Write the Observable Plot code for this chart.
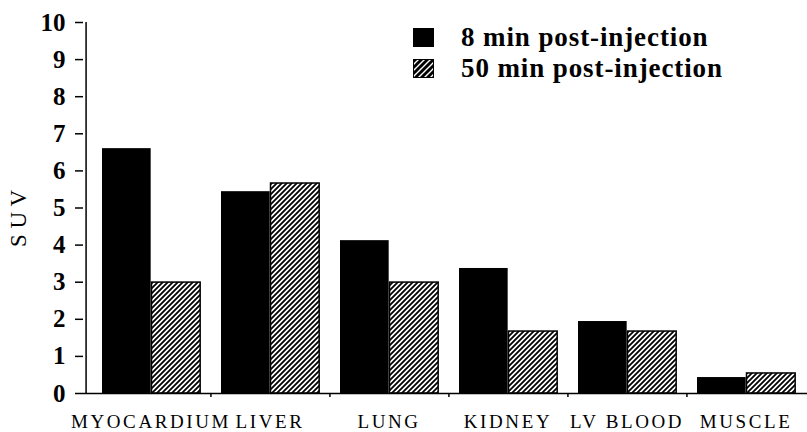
<!DOCTYPE html>
<html><head><meta charset="utf-8">
<script src="https://cdn.jsdelivr.net/npm/d3@7"></script>
<script src="https://cdn.jsdelivr.net/npm/@observablehq/plot@0.6"></script>
<style>
body{margin:0;background:#fff}
#wrap{position:relative;width:807px;height:432px}
#wrap svg text{font-family:"Liberation Serif","Times New Roman","DejaVu Serif",serif}
g[aria-label="x-axis tick label"] text{letter-spacing:2.6px}
.leg{position:absolute;left:413px;display:flex;align-items:center;height:31px;font-family:"Liberation Serif","Times New Roman","DejaVu Serif",serif;font-weight:bold;font-size:27px;letter-spacing:0.9px;white-space:nowrap;color:#000}
.leg svg{margin-right:27px;display:block}
</style></head><body>
<svg width="0" height="0" style="position:absolute"><defs>
<pattern id="hatch" patternUnits="userSpaceOnUse" width="5" height="5"><rect width="5" height="5" fill="#fff"/><path d="M0,5L5,0M-1,1L1,-1M4,6L6,4" stroke="#000" stroke-width="1.8"/></pattern>
<pattern id="hatchLeg" patternUnits="userSpaceOnUse" width="6" height="6"><rect width="6" height="6" fill="#000"/><path d="M0,6L6,0M-1,1L1,-1M5,7L7,5" stroke="#fff" stroke-width="1.4"/></pattern>
</defs></svg>
<div id="wrap"></div>
<script>
const organs = ["MYOCARDIUM","LIVER","LUNG","KIDNEY","LV BLOOD","MUSCLE"];
const series = ["8 min post-injection","50 min post-injection"];
const suv8  = [6.6, 5.44, 4.12, 3.37, 1.94, 0.43];
const suv50 = [2.99, 5.66, 2.99, 1.67, 1.67, 0.54];
const yTicks = [0,1,2,3,4,5,6,7,8,9,10];

const rows = organs.map((o,i)=>({organ:o, v8:suv8[i], v50:suv50[i]}));
const W = 807, H = 432, mL = 83, xStart = 88, mR = 0, mT = 22, mB = 39;
const bw = (W - mR - xStart) / organs.length;
const barW = 49.5, off = 11;

const chart = Plot.plot({
  width: W, height: H,
  marginLeft: mL, marginRight: mR, marginTop: mT, marginBottom: mB,
  style: {color: "#000", background: "#fff"},
  x: {domain: organs, range: [xStart, W - mR], padding: 0, label: null},
  y: {domain: [0, 10], label: null},
  marks: [
    Plot.barY(rows, {x: "organ", y: "v8", fill: "#000", insetLeft: off, insetRight: bw - off - barW}),
    Plot.barY(rows, {x: "organ", y: "v50", fill: "url(#hatch)", stroke: "#000", strokeWidth: 1.5,
      insetLeft: off + barW, insetRight: bw - off - 2 * barW}),
    Plot.ruleY([0], {stroke: "#000", strokeWidth: 1.5}),
    Plot.ruleX([organs[0]], {x: d => d, dx: -(bw / 2 + (xStart - mL)), y1: 0, y2: 10, stroke: "#000", strokeWidth: 1.5}),
    Plot.ruleX(organs.slice(0, -1), {x: d => d, dx: bw / 2, y1: 0, y2: -0.11, stroke: "#000", strokeWidth: 1.5}),
    Plot.axisY({ticks: yTicks, tickSize: 8, tickPadding: 10, fontSize: 25, fontWeight: "bold", strokeWidth: 1.5, label: null}),
    Plot.axisX({tickSize: 0, tickPadding: 21, fontSize: 19, label: null}),
    Plot.text(["S U V"], {text: d => d, frameAnchor: "left", textAnchor: "middle", rotate: -90, dx: -65, dy: 10.5, fontSize: 23})
  ]
});
const wrap = document.getElementById("wrap");
wrap.appendChild(chart);

const legFills = ["#000", "url(#hatchLeg)"];
const legTops = [22, 53];
series.forEach((s, i) => {
  const d = document.createElement("div");
  d.className = "leg";
  d.style.top = legTops[i] + "px";
  d.innerHTML = `<svg width="21" height="19"><rect x="0.5" y="0.5" width="20" height="18" fill="${legFills[i]}" stroke="#000"/></svg><span>${s}</span>`;
  wrap.appendChild(d);
});
</script>
</body></html>
